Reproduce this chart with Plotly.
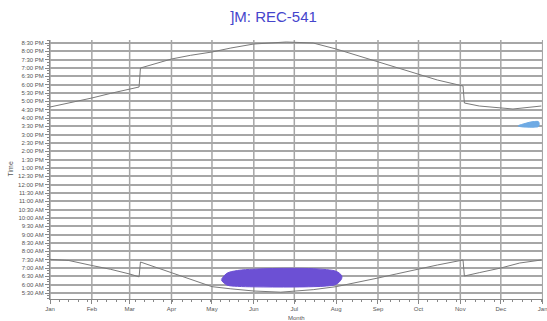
import plotly.graph_objects as go

# ---------------- data ----------------
sunrise_dates = ["2007-01-01", "2007-01-15", "2007-02-01", "2007-02-15", "2007-03-01",
                 "2007-03-08", "2007-03-09", "2007-04-01", "2007-04-15", "2007-05-01",
                 "2007-05-15", "2007-06-01", "2007-06-21", "2007-07-01", "2007-07-15",
                 "2007-08-01", "2007-08-15", "2007-09-01", "2007-09-15", "2007-10-01",
                 "2007-10-15", "2007-11-03", "2007-11-04", "2007-11-15", "2007-12-01",
                 "2007-12-15", "2007-12-31"]
sunrise_hours = [7.52, 7.45, 7.15, 6.92, 6.64,
                 6.47, 7.36, 6.72, 6.3, 5.88,
                 5.75, 5.62, 5.55, 5.6, 5.7,
                 5.88, 6.1, 6.4, 6.65, 6.94,
                 7.18, 7.48, 6.52, 6.72, 7.0,
                 7.3, 7.48]

sunset_dates = ["2007-01-01", "2007-01-15", "2007-02-01", "2007-02-15", "2007-03-01",
                "2007-03-08", "2007-03-09", "2007-04-01", "2007-04-15", "2007-05-01",
                "2007-05-15", "2007-06-01", "2007-06-25", "2007-07-15", "2007-08-01",
                "2007-08-15", "2007-09-01", "2007-09-15", "2007-10-01", "2007-10-15",
                "2007-11-03", "2007-11-04", "2007-11-15", "2007-12-01", "2007-12-10",
                "2007-12-31"]
sunset_hours = [16.66, 16.9, 17.2, 17.48, 17.74,
                17.86, 19.0, 19.54, 19.76, 19.96,
                20.2, 20.44, 20.56, 20.5, 20.14,
                19.8, 19.36, 19.0, 18.64, 18.28,
                17.92, 16.9, 16.72, 16.6, 16.54,
                16.72]

blob1_dates = ["2007-05-08", "2007-05-12", "2007-05-20", "2007-06-01", "2007-06-15",
               "2007-07-01", "2007-07-15", "2007-07-25", "2007-08-01", "2007-08-05"]
blob1_upper = [6.32, 6.68, 6.85, 6.93, 6.97, 6.98, 6.96, 6.9, 6.8, 6.55]
blob1_lower = [6.25, 5.98, 5.9, 5.87, 5.86, 5.86, 5.88, 5.92, 6.02, 6.35]

blob2_dates = ["2007-12-14", "2007-12-18", "2007-12-22", "2007-12-26", "2007-12-29"]
blob2_upper = [15.55, 15.65, 15.74, 15.79, 15.77]
blob2_lower = [15.5, 15.46, 15.45, 15.45, 15.5]

month_ticks = ["2007-01-01", "2007-02-01", "2007-03-01", "2007-04-01", "2007-05-01",
               "2007-06-01", "2007-07-01", "2007-08-01", "2007-09-01", "2007-10-01",
               "2007-11-01", "2007-12-01", "2008-01-01"]
month_labels = ["Jan", "Feb", "Mar", "Apr", "May", "Jun", "Jul", "Aug", "Sep", "Oct",
                "Nov", "Dec", "Jan"]

time_ticks = [5.5, 6.0, 6.5, 7.0, 7.5, 8.0, 8.5, 9.0, 9.5, 10.0, 10.5, 11.0, 11.5,
              12.0, 12.5, 13.0, 13.5, 14.0, 14.5, 15.0, 15.5, 16.0, 16.5, 17.0,
              17.5, 18.0, 18.5, 19.0, 19.5, 20.0, 20.5]
time_labels = ["5:30 AM", "6:00 AM", "6:30 AM", "7:00 AM", "7:30 AM", "8:00 AM",
               "8:30 AM", "9:00 AM", "9:30 AM", "10:00 AM", "10:30 AM", "11:00 AM",
               "11:30 AM", "12:00 PM", "12:30 PM", "1:00 PM", "1:30 PM", "2:00 PM",
               "2:30 PM", "3:00 PM", "3:30 PM", "4:00 PM", "4:30 PM", "5:00 PM",
               "5:30 PM", "6:00 PM", "6:30 PM", "7:00 PM", "7:30 PM", "8:00 PM",
               "8:30 PM"]

X_RANGE = ["2007-01-01", "2008-01-01 06:00"]
Y_RANGE = [5.14, 20.68]
GRID = "#a6a6a6"

# ---------------- figure ----------------
fig = go.Figure()

fig.add_trace(go.Scatter(
    x=blob1_dates + blob1_dates[::-1],
    y=blob1_upper + blob1_lower[::-1],
    fill="toself", mode="lines",
    line=dict(color="rgb(108,80,212)", width=1, shape="spline"),
    fillcolor="rgb(108,80,212)", hoverinfo="skip", showlegend=False))

fig.add_trace(go.Scatter(
    x=blob2_dates + blob2_dates[::-1],
    y=blob2_upper + blob2_lower[::-1],
    fill="toself", mode="lines",
    line=dict(color="rgb(110,170,228)", width=1, shape="spline"),
    fillcolor="rgb(110,170,228)", hoverinfo="skip", showlegend=False))

fig.add_trace(go.Scatter(x=sunset_dates, y=sunset_hours, mode="lines",
                         line=dict(color="#7a7a7a", width=1), showlegend=False))
fig.add_trace(go.Scatter(x=sunrise_dates, y=sunrise_hours, mode="lines",
                         line=dict(color="#7a7a7a", width=1), showlegend=False))

# vertical month grid lines, placed through the x scale
for m in month_ticks:
    fig.add_shape(type="line", xref="x", yref="paper", x0=m, x1=m, y0=0, y1=1,
                  line=dict(color=GRID, width=1.5), layer="below")

fig.update_layout(
    template="none",
    width=547, height=321,
    margin=dict(l=50, r=4, t=40, b=22, autoexpand=False),
    paper_bgcolor="white", plot_bgcolor="white",
    title=dict(text="]M: REC-541", x=0.5, xanchor="center", y=1 - 17 / 321,
               yanchor="middle", yref="container",
               font=dict(family="Liberation Sans, Arial", size=15, color="#4545cc")),
    font=dict(family="Liberation Sans, Arial", color="#555555"),
    annotations=[
        dict(text="Month", xref="paper", yref="paper", x=0.5, y=-19 / 259,
             xanchor="center", yanchor="middle", showarrow=False,
             font=dict(size=6, color="#555555")),
        dict(text="Time", xref="paper", yref="paper", x=-40 / 493, y=0.5,
             xanchor="center", yanchor="middle", showarrow=False, textangle=-90,
             font=dict(size=7, color="#555555")),
    ],
)

fig.update_xaxes(
    type="date", range=X_RANGE, automargin=False,
    tickmode="array", tickvals=month_ticks, ticktext=month_labels,
    tickfont=dict(size=6, color="#555555"),
    ticklabeloverflow="allow",
    showgrid=False,
    ticks="outside", ticklen=4, tickcolor="#888888",
    minor=dict(dtick=7 * 86400000, tick0="2007-01-01", ticks="outside",
               ticklen=2, tickcolor="#888888", showgrid=False),
    showline=True, linecolor="#888888", linewidth=1, mirror=False,
    zeroline=False,
)

fig.update_yaxes(
    range=Y_RANGE, automargin=False,
    tickmode="array", tickvals=time_ticks, ticktext=time_labels,
    tickfont=dict(size=6, color="#555555"),
    showgrid=True, gridcolor=GRID, gridwidth=1.5,
    ticks="outside", ticklen=4, tickcolor="#888888",
    minor=dict(dtick=1 / 6, tick0=5.5, ticks="outside", ticklen=2,
               tickcolor="#888888", showgrid=False),
    showline=True, linecolor="#888888", linewidth=1,
    zeroline=False,
)

fig.write_html("out.html", config={"displayModeBar": False},
               post_script="document.body.style.margin='0';document.body.style.padding='0';")
